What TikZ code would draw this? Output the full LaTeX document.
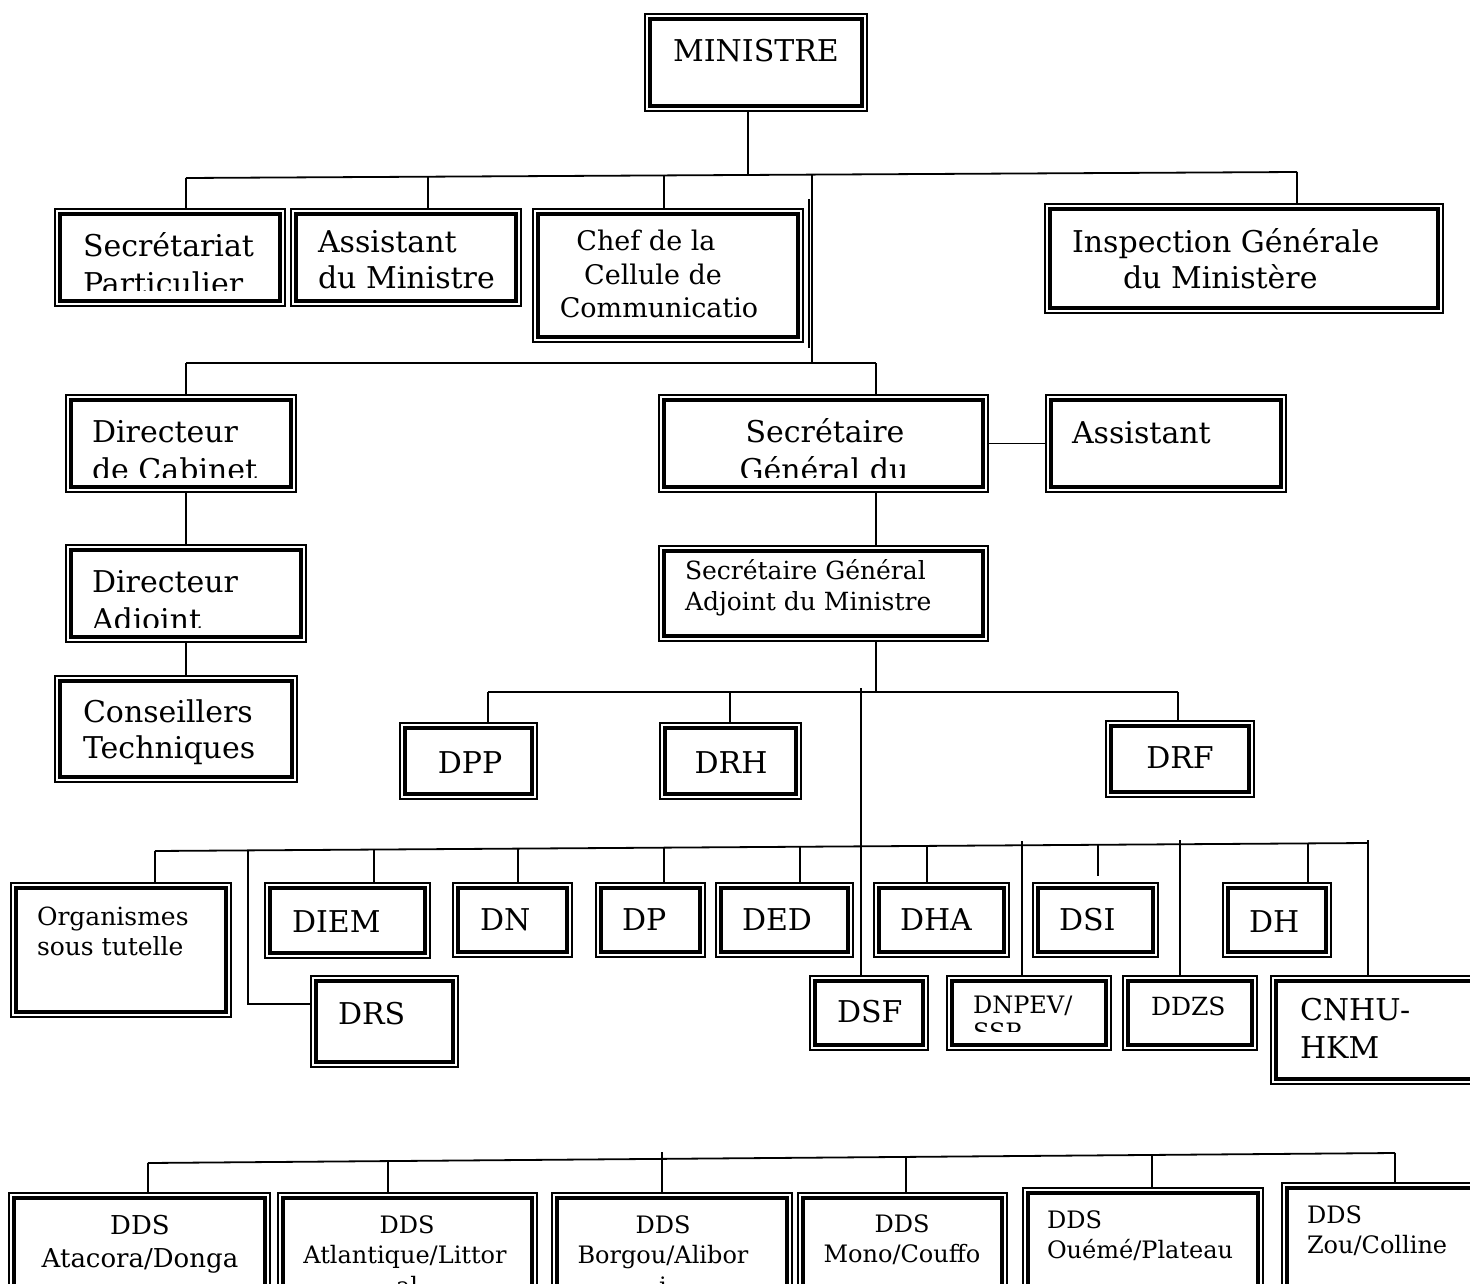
\documentclass[tikz,border=0pt]{standalone}
\usepackage{fontspec}
\setmainfont{DejaVu Serif}
\usetikzlibrary{calc}

\tikzset{
  frame/.style={rectangle, inner sep=0pt, outer sep=0pt},
  outerline/.style={line width=1.5pt},
  innerline/.style={line width=3.2pt},
  link/.style={line width=1.8pt},
  lbl/.style={inner sep=0pt, outer sep=0pt},
  fL/.style={font=\fontsize{30}{36}\selectfont},
  fM/.style={font=\fontsize{27}{33}\selectfont},
  fS/.style={font=\fontsize{25}{30}\selectfont},
  fD/.style={font=\fontsize{24}{29}\selectfont},
  fA/.style={font=\fontsize{26}{31}\selectfont},
}

% framed box: name, left, top, right, bottom (y grows downwards)
\newcommand\obox[5]{%
  \node[frame, minimum width={(#4)-(#2)}, minimum height={(#5)-(#3)}]
    (#1) at ({((#2)+(#4))/2},{((#3)+(#5))/2}) {};
  \draw[outerline] ([shift={(0.8,0.8)}]#1.north west) rectangle ([shift={(-0.8,-0.8)}]#1.south east);
  \draw[innerline] ([shift={(6,6)}]#1.north west) rectangle ([shift={(-6,-6)}]#1.south east);
}

\begin{document}
\begin{tikzpicture}[x=1pt,y=-1pt]
\useasboundingbox (0,0) rectangle (1470,1284);
\clip (0,0) rectangle (1470,1284);
\fill[white] (0,0) rectangle (1470,1284);

% ---------- Minister level ----------
\obox{min}{644}{13}{868}{112}
\node[lbl,fL,anchor=base] (t-min) at (756,62) {MINISTRE};

\obox{sp}{54}{208}{286}{307}
\begin{scope}\clip (60,214) rectangle (280,290);
\node[lbl,fL,anchor=base west] (sp-1) at (83,256) {Secrétariat};
\node[lbl,fL,anchor=base west] (sp-2) at (83,294) {Particulier};
\end{scope}

\obox{am}{290}{208}{522}{307}
\node[lbl,fL,anchor=base west] (am-1) at (318,253) {Assistant};
\node[lbl,fL,anchor=base west] (am-2) at (318,288) {du Ministre};

\obox{cc}{532}{208}{804}{343}
\node[lbl,fM,anchor=base] (cc-1) at (646,251) {Chef de la};
\node[lbl,fM,anchor=base] (cc-2) at (653,284) {Cellule de};
\node[lbl,fM,anchor=base] (cc-3) at (659,317) {Communicatio};

\obox{ig}{1044}{203}{1444}{314}
\node[lbl,fL,anchor=base west] (ig-1) at (1072,252) {Inspection Générale};
\node[lbl,fL,anchor=base west] (ig-2) at (1123,288) {du Ministère};

% ---------- Cabinet and general secretariat ----------
\obox{dc}{65}{394}{297}{493}
\begin{scope}\clip (71,400) rectangle (291,477);
\node[lbl,fL,anchor=base west] (dc-1) at (92,442) {Directeur};
\node[lbl,fL,anchor=base west] (dc-2) at (92,480) {de Cabinet};
\end{scope}

\obox{da}{65}{544}{307}{643}
\begin{scope}\clip (71,550) rectangle (301,627);
\node[lbl,fL,anchor=base west] (da-1) at (92,592) {Directeur};
\node[lbl,fL,anchor=base west] (da-2) at (92,630) {Adjoint};
\end{scope}

\obox{ct}{54}{675}{298}{783}
\node[lbl,fL,anchor=base west] (ct-1) at (83,722) {Conseillers};
\node[lbl,fL,anchor=base west] (ct-2) at (83,758) {Techniques};

\obox{sg}{658}{394}{989}{493}
\begin{scope}\clip (664,400) rectangle (983,477);
\node[lbl,fL,anchor=base] (sg-1) at (825,442) {Secrétaire};
\node[lbl,fL,anchor=base] (sg-2) at (824,480) {Général du};
\end{scope}

\obox{as}{1045}{394}{1287}{493}
\node[lbl,fL,anchor=base west] (as-1) at (1072,443) {Assistant};

\obox{sga}{658}{545}{989}{642}
\node[lbl,fS,anchor=base west] (sga-1) at (685,579) {Secrétaire Général};
\node[lbl,fS,anchor=base west] (sga-2) at (685,610) {Adjoint du Ministre};

% ---------- Directorates attached to the deputy ----------
\obox{dpp}{399}{722}{538}{800}
\node[lbl,fL,anchor=base] (t-dpp) at (470,773) {DPP};
\obox{drh}{659}{722}{802}{800}
\node[lbl,fL,anchor=base] (t-drh) at (731,773) {DRH};
\obox{drf}{1105}{720}{1255}{798}
\node[lbl,fL,anchor=base] (t-drf) at (1180,768) {DRF};

% ---------- Technical directorates ----------
\obox{org}{10}{882}{232}{1018}
\node[lbl,fS,anchor=base west] (org-1) at (37,925) {Organismes};
\node[lbl,fS,anchor=base west] (org-2) at (37,955) {sous tutelle};

\obox{diem}{264}{882}{431}{959}
\node[lbl,fL,anchor=base west] (t-diem) at (292,932) {DIEM};
\obox{dn}{452}{882}{573}{958}
\node[lbl,fL,anchor=base west] (t-dn) at (480,930) {DN};
\obox{dp}{595}{882}{706}{958}
\node[lbl,fL,anchor=base west] (t-dp) at (622,930) {DP};
\obox{ded}{715}{882}{854}{958}
\node[lbl,fL,anchor=base west] (t-ded) at (742,930) {DED};
\obox{dha}{873}{882}{1010}{958}
\node[lbl,fL,anchor=base west] (t-dha) at (900,930) {DHA};
\obox{dsi}{1032}{882}{1159}{958}
\node[lbl,fL,anchor=base west] (t-dsi) at (1059,930) {DSI};
\obox{dh}{1222}{882}{1332}{958}
\node[lbl,fL,anchor=base west] (t-dh) at (1249,932) {DH};

\obox{drs}{310}{975}{459}{1068}
\node[lbl,fL,anchor=base west] (t-drs) at (338,1024) {DRS};

\obox{dsf}{809}{975}{929}{1051}
\node[lbl,fL,anchor=base west] (t-dsf) at (837,1022) {DSF};
\obox{dnp}{946}{975}{1112}{1051}
\begin{scope}\clip (952,981) rectangle (1106,1031);
\node[lbl,fD,anchor=base west] (dnp-1) at (973,1013) {DNPEV/};
\node[lbl,fD,anchor=base west] (dnp-2) at (973,1040) {SSP};
\end{scope}
\obox{ddz}{1122}{975}{1258}{1051}
\node[lbl,fS,anchor=base west] (t-ddz) at (1151,1015) {DDZS};
\obox{cnh}{1270}{975}{1495}{1085}
\node[lbl,fL,anchor=base west] (cnh-1) at (1300,1020) {CNHU-};
\node[lbl,fL,anchor=base west] (cnh-2) at (1300,1058) {HKM};

% ---------- Departmental directorates ----------
\obox{ata}{8}{1192}{271}{1330}
\node[lbl,fA,anchor=base] (ata-1) at (140,1234) {DDS};
\node[lbl,fA,anchor=base] (ata-2) at (140,1267) {Atacora/Donga};
\obox{atl}{277}{1192}{538}{1330}
\node[lbl,fD,anchor=base] (atl-1) at (407,1233) {DDS};
\node[lbl,fD,anchor=base] (atl-2) at (405,1263) {Atlantique/Littor};
\node[lbl,fD,anchor=base] (atl-3) at (407,1294) {al};
\obox{bor}{551}{1192}{793}{1330}
\node[lbl,fD,anchor=base] (bor-1) at (663,1233) {DDS};
\node[lbl,fD,anchor=base] (bor-2) at (663,1263) {Borgou/Alibor};
\node[lbl,fD,anchor=base] (bor-3) at (663,1294) {i};
\obox{mon}{797}{1192}{1008}{1330}
\node[lbl,fD,anchor=base] (mon-1) at (902,1232) {DDS};
\node[lbl,fD,anchor=base] (mon-2) at (902,1262) {Mono/Couffo};
\obox{oue}{1022}{1187}{1264}{1330}
\node[lbl,fD,anchor=base west] (oue-1) at (1047,1228) {DDS};
\node[lbl,fD,anchor=base west] (oue-2) at (1047,1258) {Ouémé/Plateau};
\obox{zou}{1281}{1182}{1495}{1330}
\node[lbl,fD,anchor=base west] (zou-1) at (1307,1223) {DDS};
\node[lbl,fD,anchor=base west] (zou-2) at (1307,1253) {Zou/Colline};

% ---------- Connectors ----------
% first level
\coordinate (b1L) at (186,178);
\coordinate (b1R) at (1297,172);
\coordinate (b1m) at (748,174);
\coordinate (b1a) at (428,176.5);
\coordinate (b1c) at (664,175);
\coordinate (b1s) at (812,175);
\draw[link] (b1L) -- (b1R);
\draw[link] (min.south -| b1m) -- (b1m);
\draw[link] (b1L) -- (sp.north -| b1L);
\draw[link] (b1a) -- (am.north -| b1a);
\draw[link] (b1c) -- (cc.north -| b1c);
\draw[link] (b1R) -- (ig.north -| b1R);

% second level
\coordinate (b2L) at (186,363);
\coordinate (b2R) at (876,363);
\coordinate (b2s) at (812,363);
\coordinate (dbl1) at (809,199);
\coordinate (dbl2) at (809,348);
\draw[link] (b1s) -- (b2s);
\draw[link] (dbl1) -- (dbl2);
\draw[link] (b2L) -- (b2R);
\draw[link] (b2L) -- (dc.north -| b2L);
\draw[link] (b2R) -- (sg.north -| b2R);
\draw[link] (sg.east) -- (as.west);
\draw[link] (dc.south -| b2L) -- (da.north -| b2L);
\draw[link] (da.south -| b2L) -- (ct.north -| b2L);
\draw[link] (sg.south -| b2R) -- (sga.north -| b2R);

% deputy level
\coordinate (b3L) at (488,692);
\coordinate (b3m) at (876,692);
\coordinate (b3d) at (730,692);
\coordinate (b3R) at (1178,692);
\draw[link] (sga.south -| b3m) -- (b3m);
\draw[link] (b3L) -- (b3R);
\draw[link] (b3L) -- (dpp.north -| b3L);
\draw[link] (b3d) -- (drh.north -| b3d);
\draw[link] (b3R) -- (drf.north -| b3R);

% technical directorates
\coordinate (v0) at (861,688);
\draw[link] (v0) -- (dsf.north -| v0);
\coordinate (b4L) at (155,851);
\coordinate (b4R) at (1368,843);
\draw[link] (b4L) -- (b4R);
\draw[link] (b4L) -- (org.north -| b4L);
\coordinate (b4r) at (248,850.4);
\coordinate (drsc) at (248,1004);
\draw[link] (b4r) -- (drsc) -- (drs.west |- drsc);
\coordinate (b4a) at (374,849.6);
\draw[link] (b4a) -- (diem.north -| b4a);
\coordinate (b4b) at (518,848.6);
\draw[link] (b4b) -- (dn.north -| b4b);
\coordinate (b4c) at (664,847.6);
\draw[link] (b4c) -- (dp.north -| b4c);
\coordinate (b4d) at (800,846.7);
\draw[link] (b4d) -- (ded.north -| b4d);
\coordinate (b4e) at (927,845.9);
\draw[link] (b4e) -- (dha.north -| b4e);
\coordinate (b4f) at (1098,844.8);
\coordinate (dsiend) at (1098,876);
\draw[link] (b4f) -- (dsiend);
\coordinate (b4g) at (1308,843.4);
\draw[link] (b4g) -- (dh.north -| b4g);
\coordinate (b4h) at (1022,841);
\draw[link] (b4h) -- (dnp.north -| b4h);
\coordinate (b4i) at (1180,840);
\draw[link] (b4i) -- (ddz.north -| b4i);
\coordinate (b4j) at (1368,840);
\draw[link] (b4j) -- (cnh.north -| b4j);

% departmental directorates
\coordinate (b5L) at (148,1163);
\coordinate (b5R) at (1395,1153);
\draw[link] (b5L) -- (b5R);
\draw[link] (b5L) -- (ata.north -| b5L);
\coordinate (b5a) at (388,1161);
\draw[link] (b5a) -- (atl.north -| b5a);
\coordinate (b5b) at (662,1152);
\draw[link] (b5b) -- (bor.north -| b5b);
\coordinate (b5c) at (906,1156.9);
\draw[link] (b5c) -- (mon.north -| b5c);
\coordinate (b5d) at (1152,1155);
\draw[link] (b5d) -- (oue.north -| b5d);
\draw[link] (b5R) -- (zou.north -| b5R);
\end{tikzpicture}
\end{document}
